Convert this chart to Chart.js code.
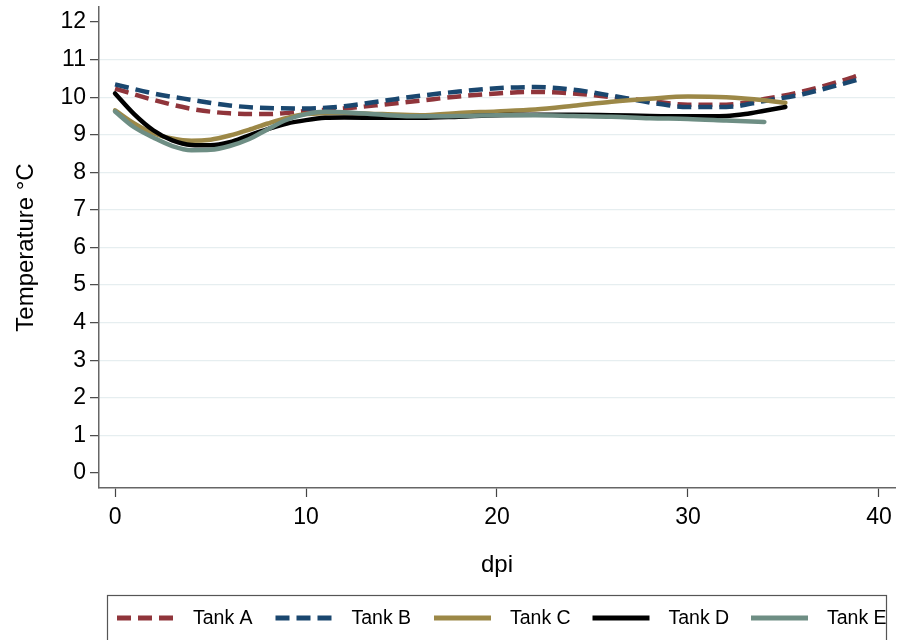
<!DOCTYPE html>
<html>
<head>
<meta charset="utf-8">
<script src="https://cdn.jsdelivr.net/npm/chart.js@4/dist/chart.umd.min.js"></script>
<style>
  body { margin: 0; background: #fff; }
  canvas { display: block; }
</style>
</head>
<body>
<canvas id="tempChart" width="904" height="640"></canvas>
<script>
// values (dpi vs temperature, deg C)
const dpiA = [0, 2, 4, 6, 8, 10, 12, 14, 16, 18, 20, 22, 24, 26, 28, 30, 32, 34, 36, 38, 39];
const tankA = [10.23, 9.93, 9.69, 9.57, 9.55, 9.63, 9.7, 9.8, 9.91, 10.02, 10.1, 10.14, 10.1, 10.0, 9.9, 9.8, 9.8, 9.95, 10.15, 10.43, 10.59];

const dpiB = [0, 2, 4, 6, 8, 10, 12, 14, 16, 18, 20, 22, 24, 26, 28, 30, 32, 34, 36, 38, 39];
const tankB = [10.34, 10.1, 9.93, 9.78, 9.71, 9.7, 9.76, 9.9, 10.04, 10.15, 10.24, 10.27, 10.2, 10.04, 9.86, 9.74, 9.74, 9.9, 10.08, 10.34, 10.48];

const dpiC = [0, 1, 2, 3, 4, 5, 6, 7, 8, 9, 10, 12, 14, 16, 18, 20, 22, 24, 26, 28, 30, 32, 34, 35.1];
const tankC = [9.65, 9.3, 9.04, 8.9, 8.84, 8.87, 8.98, 9.13, 9.3, 9.45, 9.55, 9.58, 9.55, 9.52, 9.58, 9.62, 9.67, 9.77, 9.88, 9.96, 10.02, 10.0, 9.92, 9.85];

const dpiD = [0, 1, 2, 3, 4, 5, 6, 7, 8, 9, 10, 11, 12, 14, 16, 18, 20, 22, 24, 26, 28, 30, 32, 33, 34, 35.1];
const tankD = [10.1, 9.55, 9.12, 8.85, 8.73, 8.72, 8.8, 8.98, 9.15, 9.3, 9.39, 9.45, 9.46, 9.45, 9.45, 9.48, 9.52, 9.53, 9.53, 9.52, 9.5, 9.49, 9.5, 9.55, 9.64, 9.74];

const dpiE = [0, 1, 2, 3, 4, 5, 6, 7, 8, 9, 10, 11, 12, 14, 16, 18, 20, 22, 24, 26, 28, 30, 32, 34];
const tankE = [9.62, 9.2, 8.93, 8.7, 8.59, 8.6, 8.7, 8.88, 9.15, 9.4, 9.55, 9.61, 9.6, 9.53, 9.49, 9.5, 9.52, 9.52, 9.5, 9.48, 9.44, 9.42, 9.38, 9.34];

const seriesNames = ['Tank A', 'Tank B', 'Tank C', 'Tank D', 'Tank E'];
const xTicks = [0, 10, 20, 30, 40];
const yTicks = [0, 1, 2, 3, 4, 5, 6, 7, 8, 9, 10, 11, 12];

const FONT = "'Liberation Sans', Arial, sans-serif";
const pts = (xs, ys) => xs.map((x, i) => ({ x, y: ys[i] }));

const styles = [
  { color: '#90353b', dash: [14, 7] },
  { color: '#1a476f', dash: [14, 7] },
  { color: '#9c8847', dash: [] },
  { color: '#000000', dash: [] },
  { color: '#6e8e84', dash: [] },
];
const allData = [pts(dpiA, tankA), pts(dpiB, tankB), pts(dpiC, tankC), pts(dpiD, tankD), pts(dpiE, tankE)];

// boxed legend along the bottom, like the original
const boxLegend = {
  id: 'boxLegend',
  afterDraw(chart) {
    const ctx = chart.ctx;
    ctx.save();
    ctx.strokeStyle = '#555';
    ctx.lineWidth = 1.2;
    ctx.strokeRect(107.5, 595.5, 779, 60);
    chart.data.datasets.forEach((ds, i) => {
      const x0 = 117 + i * 158.5;
      ctx.strokeStyle = ds.borderColor;
      ctx.lineWidth = 5;
      ctx.setLineDash(ds.borderDash || []);
      ctx.beginPath();
      ctx.moveTo(x0, 618);
      ctx.lineTo(x0 + 57, 618);
      ctx.stroke();
      ctx.setLineDash([]);
      ctx.fillStyle = '#000';
      ctx.font = '19.5px ' + FONT;
      ctx.textBaseline = 'middle';
      ctx.fillText(ds.label, x0 + 76, 619);
    });
    ctx.restore();
  }
};

new Chart(document.getElementById('tempChart'), {
  type: 'line',
  data: {
    datasets: seriesNames.map((name, i) => ({
      label: name,
      data: allData[i],
      borderColor: styles[i].color,
      borderDash: styles[i].dash,
      borderWidth: 4.5,
      borderCapStyle: styles[i].dash.length ? 'butt' : 'round',
      cubicInterpolationMode: 'monotone',
      pointRadius: 0,
      fill: false,
      order: 5 - i,
    }))
  },
  options: {
    responsive: false,
    animation: false,
    layout: { padding: { top: 7, right: 9, left: 0, bottom: 60 } },
    plugins: { legend: { display: false }, tooltip: { enabled: false } },
    scales: {
      x: {
        type: 'linear',
        min: -0.84,
        max: 40.84,
        afterBuildTicks: s => { s.ticks = xTicks.map(v => ({ value: v })); },
        afterFit: s => { s.height = 92; s.paddingLeft = 0; s.paddingRight = 0; },
        grid: { drawOnChartArea: false, drawTicks: true, tickLength: 9, tickColor: '#444', tickWidth: 1.2 },
        border: { color: '#666', width: 1.5 },
        ticks: { color: '#000', padding: 7, maxRotation: 0, font: { family: FONT, size: 23 } },
        title: { display: true, text: 'dpi', color: '#000', padding: { top: 0, bottom: 0 }, font: { family: FONT, size: 24 } }
      },
      y: {
        min: -0.4,
        max: 12.4,
        afterBuildTicks: s => { s.ticks = yTicks.map(v => ({ value: v })); },
        afterFit: s => { s.width = 99; s.paddingTop = 0; s.paddingBottom = 0; },
        grid: {
          color: c => (c.tick && (c.tick.value === 0 || c.tick.value === 12)) ? 'rgba(0,0,0,0)' : '#e6eef0',
          lineWidth: 1.3,
          tickLength: 9,
          tickColor: '#444',
          tickWidth: 1.2
        },
        border: { color: '#666', width: 1.5 },
        ticks: { color: '#000', padding: 4, font: { family: FONT, size: 23 } },
        title: { display: true, text: 'Temperature °C', color: '#000', padding: { top: 12, bottom: 0 }, font: { family: FONT, size: 24 } }
      }
    }
  },
  plugins: [boxLegend]
});
</script>
</body>
</html>
